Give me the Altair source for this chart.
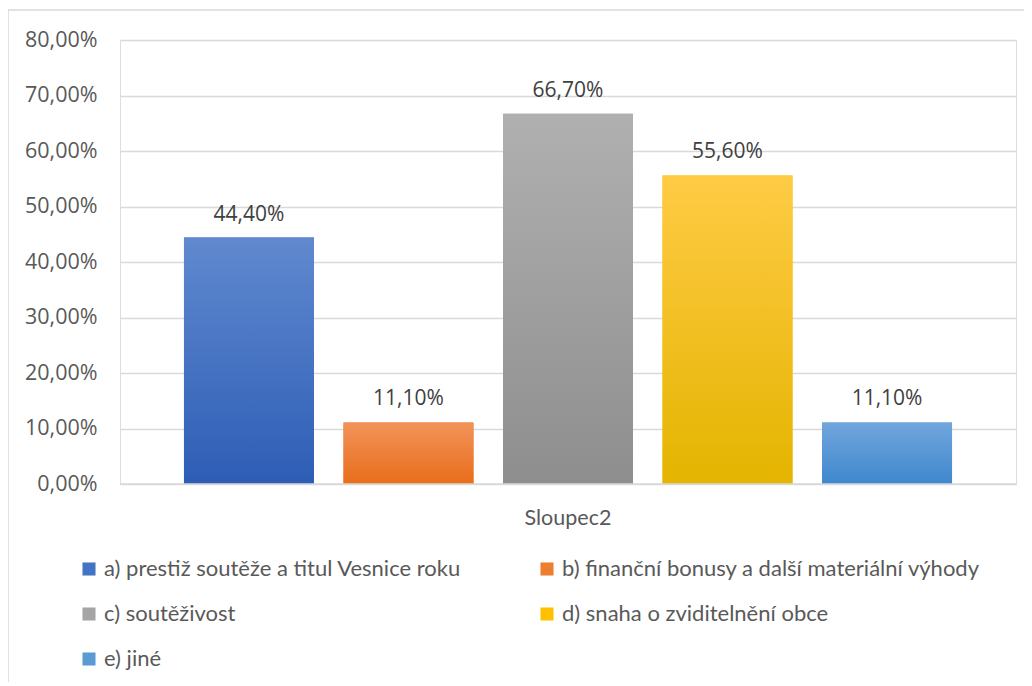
import altair as alt
import pandas as pd

categories = [
    "a) prestiž soutěže a titul Vesnice roku",
    "b) finanční bonusy a další materiální výhody",
    "c) soutěživost",
    "d) snaha o zviditelnění obce",
    "e) jiné",
]
values = [0.444, 0.111, 0.667, 0.556, 0.111]
labels = ["44,40%", "11,10%", "66,70%", "55,60%", "11,10%"]
group = "Sloupec2"
top_colors = ["#6089CF", "#F2935A", "#B0B0B0", "#FFCB45", "#72A6DD"]
bottom_colors = ["#2D5DB5", "#E86D1A", "#8E8E8E", "#E4B400", "#3F87CD"]
mid_colors = ["#4472C4", "#ED7D31", "#A5A5A5", "#FFC000", "#5B9BD5"]
y_ticks = [0, 0.1, 0.2, 0.3, 0.4, 0.5, 0.6, 0.7, 0.8]

df = pd.DataFrame({"series": categories, "value": values, "label": labels, "group": group})

FONT = "Open Sans"
FONT2 = "Lato"

x_enc = alt.X(
    "group:N",
    scale=alt.Scale(paddingInner=0, paddingOuter=0),
    axis=alt.Axis(
        title=None, labelAngle=0, labelFontSize=21.5, labelColor="#595959",
        labelFont=FONT2, ticks=False, domain=False, labelPadding=23,
    ),
)
xo_enc = alt.XOffset(
    "series:N", sort=categories,
    scale=alt.Scale(domain=categories, paddingInner=0.185, paddingOuter=0.401),
)
y_enc = alt.Y(
    "value:Q",
    scale=alt.Scale(domain=[0, 0.8], nice=False),
    axis=alt.Axis(
        title=None, values=y_ticks, labelExpr="replace(format(datum.value, '.2%'), '.', ',')",
        labelFontSize=21.5, labelColor="#595959", labelFont=FONT, ticks=False, domain=False,
        labelPadding=23, gridColor="#D9D9D9", gridWidth=1.5,
    ),
)

base = alt.Chart(df).encode(x=x_enc, xOffset=xo_enc, y=y_enc)

legend_bars = base.mark_bar().encode(
    color=alt.Color(
        "series:N",
        scale=alt.Scale(domain=categories, range=mid_colors),
        legend=alt.Legend(
            title=None, orient="none", legendX=-42, legendY=518, columns=2,
            direction="horizontal",
            symbolType="square", symbolSize=170, symbolStrokeWidth=0,
            labelFontSize=22, labelFont=FONT2, labelColor="#595959", labelLimit=600,
            labelOffset=4, rowPadding=23, columnPadding=75, padding=0,
        ),
    )
)

layers = [legend_bars]
for cat, top, bot in zip(categories, top_colors, bottom_colors):
    grad = alt.Gradient(
        gradient="linear",
        stops=[alt.GradientStop(color=top, offset=0), alt.GradientStop(color=bot, offset=1)],
        x1=0, x2=0, y1=0, y2=1,
    )
    layers.append(
        base.transform_filter(alt.datum.series == cat).mark_bar(color=grad)
    )

text = base.mark_text(
    baseline="bottom", dy=-13, fontSize=21, font=FONT, color="#404040"
).encode(text="label:N")
layers.append(text)

zero = alt.Chart(pd.DataFrame({"value": [0]})).mark_rule(color="#D9D9D9", strokeWidth=1.5).encode(y=alt.Y("value:Q"))
layers.append(zero)

border = alt.Chart(pd.DataFrame({"value": [0]})).mark_rect(
    fill=None, stroke="#D9D9D9", strokeWidth=1.5
).encode(x=alt.value(-112), x2=alt.value(1000), y=alt.value(-30), y2=alt.value(800))
layers.append(border)

chart = alt.layer(*layers).properties(
    width=896, height=444,
    autosize=alt.AutoSizeParams(type="none"),
    padding={"left": 112, "top": 32, "right": 8, "bottom": 198},
).configure_view(stroke=None).configure(background="white")

chart.save("out.html", embed_options={"renderer": "svg", "actions": False})
